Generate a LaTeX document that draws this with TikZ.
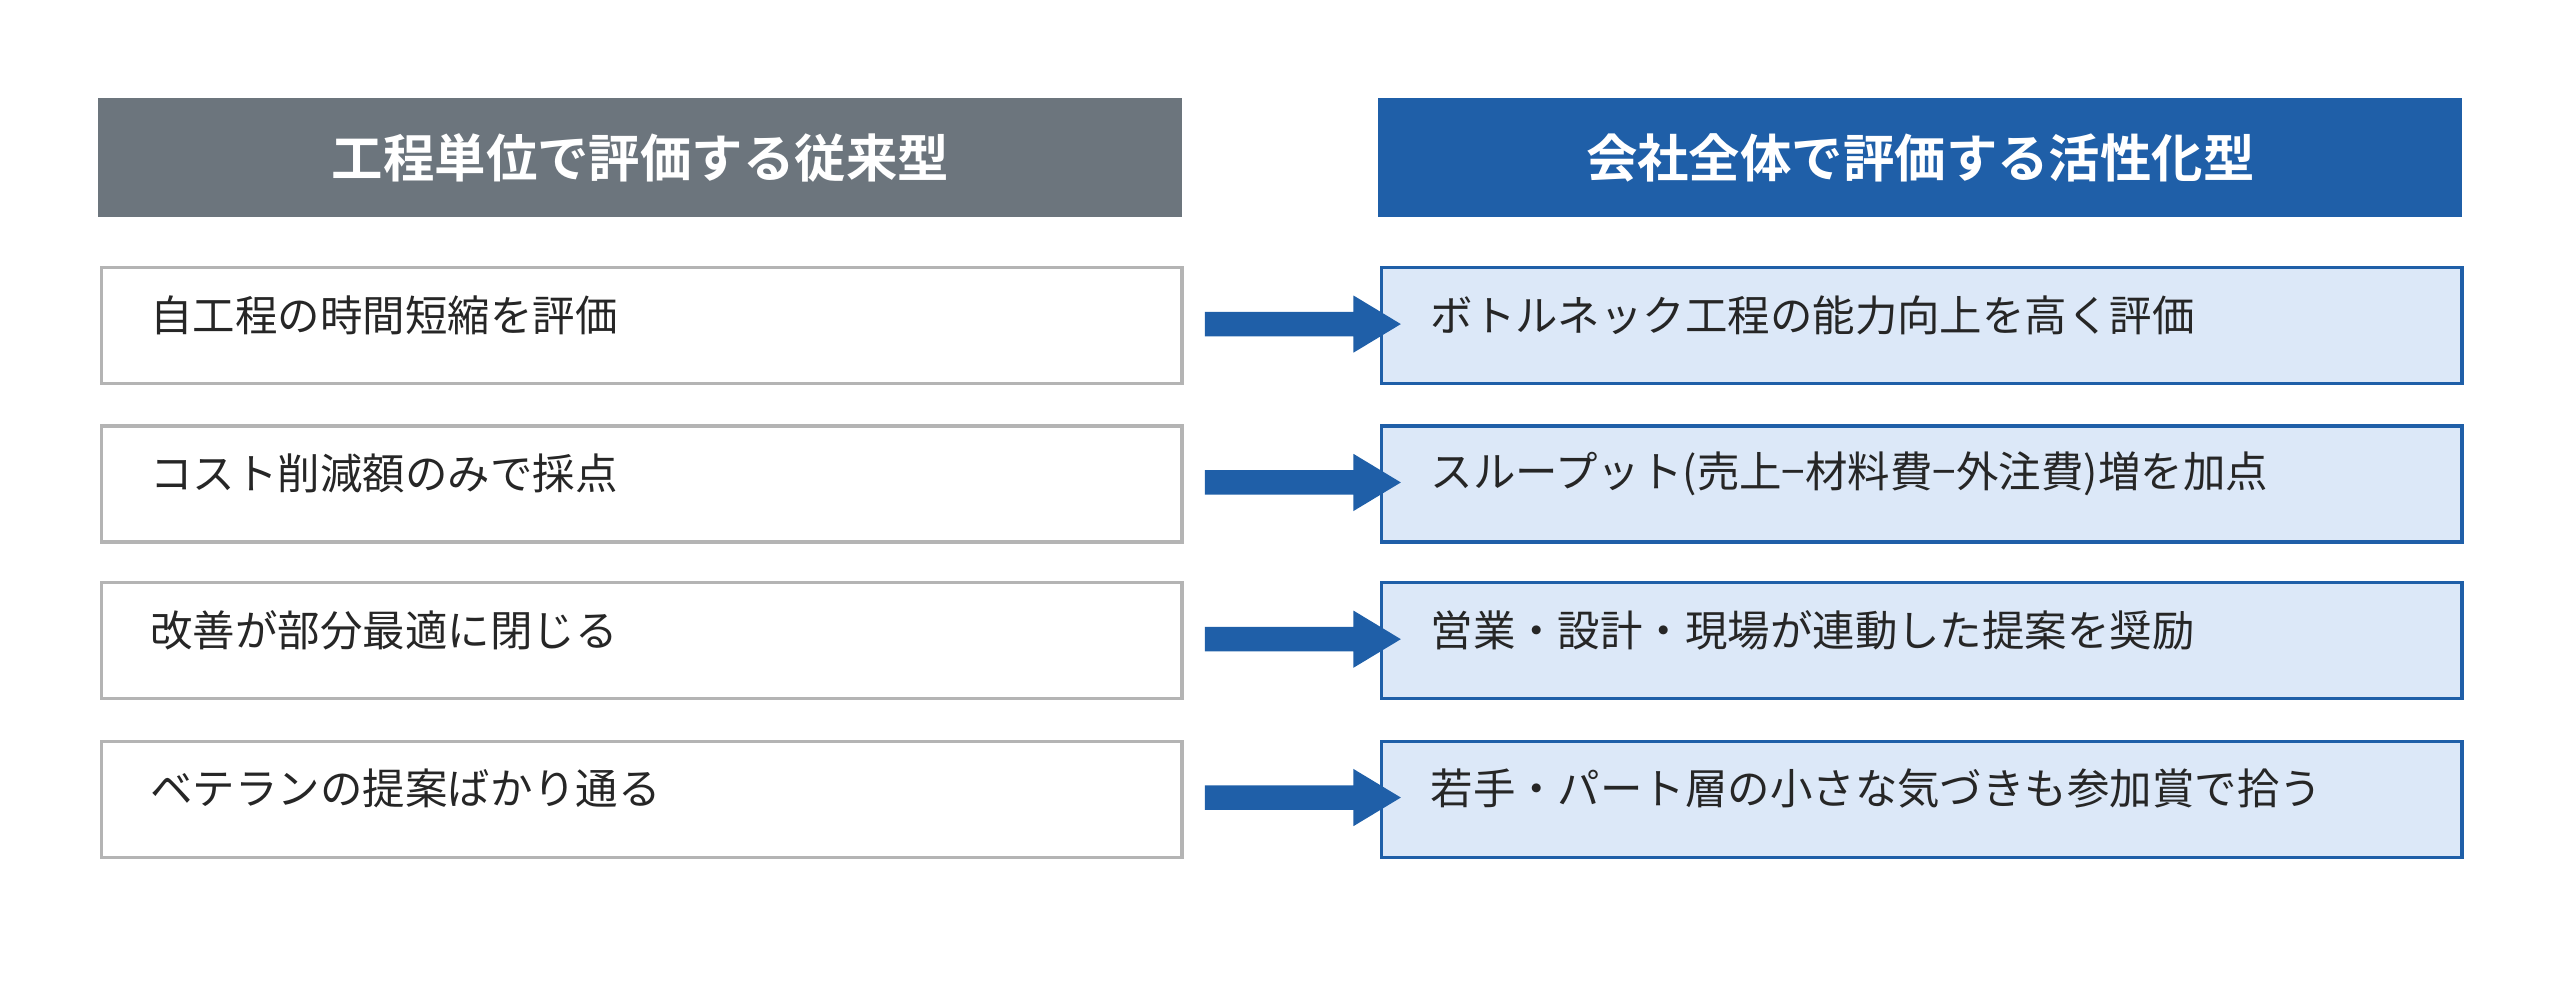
\documentclass[tikz,border=0pt]{standalone}
\usepackage{fontspec}
\setmainfont{Noto Sans CJK JP}[BoldFont={Noto Sans CJK JP Bold}]
\definecolor{hgray}{HTML}{6C757D}
\definecolor{hblue}{HTML}{1F5FA8}
\definecolor{lblue}{HTML}{DCE8F8}
\definecolor{bgray}{HTML}{B4B4B4}
\begin{document}
\begin{tikzpicture}[x=1pt,y=-1pt,
 hdr/.style={minimum width=664pt,minimum height=73pt,anchor=north west,inner sep=0pt,text=white,font=\fontsize{31.5}{36}\selectfont\bfseries},
 lbox/.style={draw=bgray,line width=2pt,fill=white,minimum width=662pt,minimum height=71pt,anchor=north west,inner sep=0pt},
 rbox/.style={draw=hblue,line width=2pt,fill=lblue,minimum width=662pt,minimum height=71pt,anchor=north west,inner sep=0pt},
 txt/.style={anchor=west,inner sep=0pt,text=black!85,font=\fontsize{26}{30}\selectfont},
 arr/.style={fill=hblue,draw=none}]
\useasboundingbox (0,0) rectangle (1568,609);
\node[hdr,fill=hgray] (h1) at (60,60) {工程単位で評価する従来型};
\node[hdr,fill=hblue] (h2) at (844,60) {会社全体で評価する活性化型};
\foreach \i/\y/\a/\b in {1/163/自工程の時間短縮を評価/ボトルネック工程の能力向上を高く評価,
 2/260/コスト削減額のみで採点/スループット(売上−材料費−外注費)増を加点,
 3/356/改善が部分最適に閉じる/営業・設計・現場が連動した提案を奨励,
 4/453/ベテランの提案ばかり通る/若手・パート層の小さな気づきも参加賞で拾う}{
 \node[lbox] (l\i) at (61,\y) {};
 \node[rbox] (r\i) at (845,\y) {};
 \node[txt] (lt\i) at (92,\y+30) {\a};
 \node[txt] (rt\i) at (876,\y+30) {\b};
 \fill[arr] (738,\y+28) -- (829,\y+28) -- (829,\y+18) -- (858,\y+35.5) -- (829,\y+53) -- (829,\y+43) -- (738,\y+43) -- cycle;
}
\end{tikzpicture}
\end{document}
